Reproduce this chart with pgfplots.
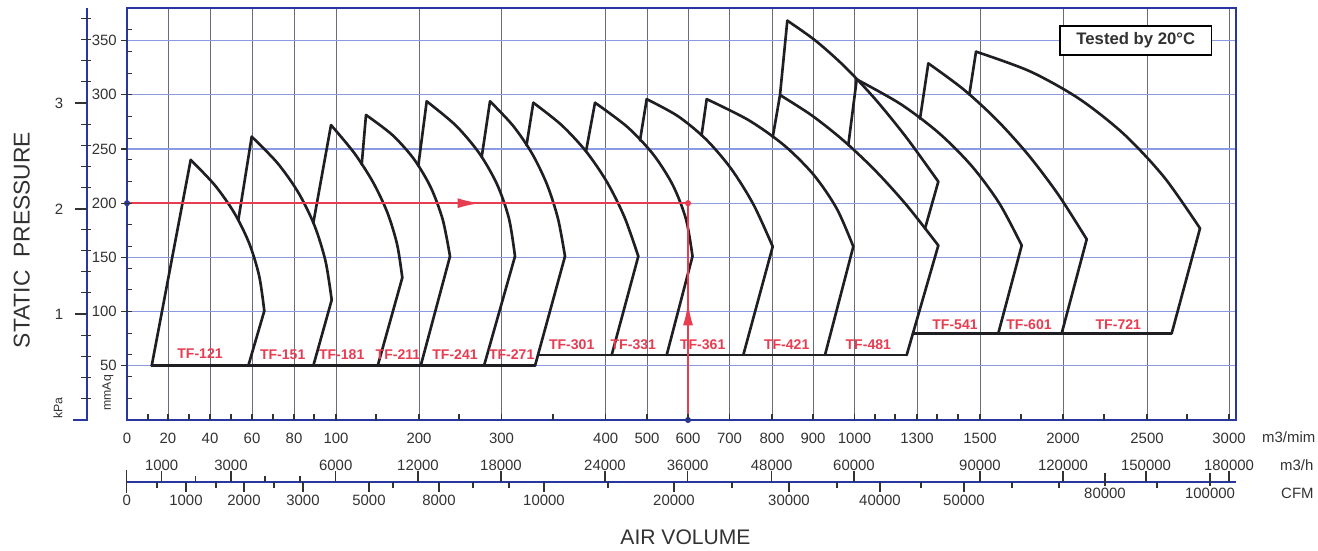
\documentclass[border=0pt]{standalone}
\usepackage{pgfplots}
\pgfplotsset{compat=1.18}
\usepackage{fontspec}
\setmainfont{Liberation Sans}
\usetikzlibrary{arrows.meta}

\definecolor{frame}{RGB}{40,55,160}
\definecolor{vgrid}{RGB}{105,108,122}
\definecolor{hgrid}{RGB}{140,155,225}
\definecolor{fanline}{RGB}{30,30,35}
\definecolor{selred}{RGB}{232,60,80}
\definecolor{txt}{RGB}{50,50,50}

\tikzset{
  fan/.style={fanline, line width=1.5pt, line join=round, line cap=round},
  redline/.style={selred, line width=1.1pt},
}

% left line, top curve, right line of one fan
\newcommand\fan[3]{%
  \addplot[fan] coordinates {#1};
  \addplot[fan, smooth] coordinates {#2};
  \addplot[fan] coordinates {#3};}

\begin{document}
\begin{tikzpicture}[font=\fontsize{8.5}{10}\selectfont]
\begin{axis}[
  x=0.2mm, y=0.2168mm,
  xmin=127, xmax=1236, ymin=0, ymax=380,
  clip=false,
  axis line style={draw=frame, line width=1.1pt},
  xtick={127,168,210,252,294,336,419,501.5,605.7,647,688,729.5,772,813,854.5,917,980,1063,1147,1229},
  xticklabels={0,20,40,60,80,100,200,300,400,500,600,700,800,900,1000,1300,1500,2000,2500,3000},
  ytick={50,100,150,200,250,300,350},
  yticklabels={50,100,150,200,250,300,350},
  tick style={draw=none},
  xmajorgrids, ymajorgrids,
  major grid style={vgrid, line width=0.55pt},
  every axis y grid/.style={hgrid, line width=0.6pt},
  tick label style={font=\fontsize{8.5}{10}\selectfont, text=txt},
  xticklabel style={anchor=center, yshift=-3.6mm},
  yticklabel style={anchor=east, xshift=-0.8mm},
]

% base lines
\addplot[fan] coordinates {(151.7,50) (535,50)};
\addplot[fan] coordinates {(538,60) (906.7,60)};
\addplot[fan] coordinates {(913,80) (1171.7,80)};

% TF-121
\fan{(151.7,50) (190.7,240)}
    {(190.7,240) (215,216.4) (234.5,190.7) (249.3,162.8) (259.2,132.8) (264.3,100.6)}
    {(264.3,100.6) (248.3,50)}
% TF-151
\fan{(238.3,184.2) (251.7,261.4)}
    {(251.7,261.4) (277.5,237) (298.4,209.7) (314.4,179.6) (325.5,146.6) (331.7,110.7)}
    {(331.7,110.7) (313.3,50)}
% TF-181
\fan{(313.3,181.7) (331,272.1)}
    {(331,272.1) (354.4,246.1) (373.3,218.9) (387.6,190.8) (397.2,161.6) (402.3,131.3)}
    {(402.3,131.3) (377.7,50)}
% TF-211
\fan{(361.7,235.6) (366,281.4)}
    {(366,281.4) (392.4,262.9) (414,240.6) (430.8,214.5) (442.8,184.6) (450,151)}
    {(450,151) (420.7,50)}
% TF-241
\fan{(418.3,234.5) (426.7,294)}
    {(426.7,294) (456,271.5) (479.4,245.9) (497.1,217.3) (509,185.7) (515,151)}
    {(515,151) (484,50)}
% TF-271
\fan{(481.7,242.6) (490,294)}
    {(490,294) (513,271.5) (532,245.9) (547,217.3) (558,185.7) (565,151)}
    {(565,151) (535,50)}
% TF-301
\fan{(526.5,253.3) (533.3,292.7)}
    {(533.3,292.7) (561.5,272.1) (586.1,247.7) (607.1,219.3) (624.5,187.1) (638.3,151)}
    {(638.3,151) (611.7,60)}
% TF-331
\fan{(586,247.8) (595,292.7)}
    {(595,292.7) (627.5,270.2) (653.4,244.8) (672.9,216.5) (686,185.2) (692.5,151)}
    {(692.5,151) (666.7,60)}
% TF-361
\fan{(640,257.9) (646.7,296)}
    {(646.7,296) (677.9,280.3) (706,258.9) (731.2,231.7) (753.5,198.7) (772.7,160)}
    {(772.7,160) (743.3,60)}
% TF-421
\fan{(701.5,262.3) (706.7,296)}
    {(706.7,296) (748.8,276.5) (784.5,253.1) (813.9,225.9) (836.8,194.9) (853.3,160)}
    {(853.3,160) (825,60)}
% TF-481
\fan{(772.7,260.8) (780,299.8)}
    {(780,299.8) (812.2,280.7) (844.1,257.3) (875.8,229.6) (907.2,197.5) (938.3,161)}
    {(938.3,161) (906.7,60)}
% upper range above TF-481
\fan{(780,299.8) (787.3,368.4)}
    {(787.3,368.4) (815.7,349.8) (845,325.7) (875.2,296) (906.3,260.7) (938.3,219.9)}
    {(938.3,219.9) (925,176.6)}
% TF-541
\fan{(848.3,253.6) (856.7,314.2)}
    {(856.7,314.2) (900.5,291.5) (938.8,264.8) (971.8,234.2) (999.5,199.6) (1021.7,161)}
    {(1021.7,161) (998.3,80)}
% TF-601
\fan{(920,277.9) (928.3,329)}
    {(928.3,329) (963.5,305) (996.9,276.7) (1028.6,244.2) (1058.5,207.6) (1086.7,166.7)}
    {(1086.7,166.7) (1061.7,80)}
% TF-721
\fan{(969.3,300.1) (976,339.8)}
    {(976,339.8) (1029.8,321.7) (1079,296.4) (1123.8,263.8) (1164.2,223.9) (1200,176.8)}
    {(1200,176.8) (1171.7,80)}

% selection example
\addplot[redline, -{Latex[length=4.5mm,width=2mm]}] coordinates {(127,200) (480,200)};
\addplot[redline] coordinates {(470,200) (688,200)};
\addplot[redline, -{Latex[length=4.5mm,width=2mm]}] coordinates {(688,0) (688,108)};
\addplot[redline] coordinates {(688,100) (688,200)};
\addplot[only marks, mark=*, mark size=1.5pt, frame] coordinates {(127,200) (688,0)};
\addplot[only marks, mark=*, mark size=1.5pt, selred] coordinates {(688,200)};

\coordinate (O) at (axis cs:0,0);
\end{axis}

\begin{scope}[shift={(O)}, x=0.2mm, y=0.2168mm]
  % ticks on the frame
  \foreach \x in {148,168,189,210,231,252,273,294,314,336,376,419,459,501.5,553,605.7,647,688,729.5,772,813,854.5,875,895,917,937,958,980,1021,1063,1104,1147,1187,1229}
    \draw[txt, line width=0.7pt] (\x,0) -- (\x,5.5);
  \foreach \y in {50,100,...,350}
    \draw[txt, line width=0.7pt] (121.5,\y) -- (127,\y);
  \foreach \y in {20,40,...,360}
    \draw[txt, line width=0.6pt] (127,\y) -- (132.5,\y);

  % kPa scale
  \draw[frame, line width=1.1pt] (73,0) -- (87,0) -- (87,380);
  \foreach \k/\y in {1/97.8,2/194.6,3/292.4} {
    \draw[txt, line width=0.8pt] (75,\y) -- (87,\y);
    \node[txt] at (59,\y) {\k};
  }
  \foreach \y in {19.5,38.9,58.4,77.8,117.3,136.8,156.2,175.7,214.1,233.5,253,272.4,312,331.5,350.9,370.4}
    \draw[txt, line width=0.6pt] (81.5,\y) -- (91,\y);
  \node[txt, rotate=90, font=\fontsize{7}{8}\selectfont] at (58,11) {kPa};
  \node[txt, rotate=90, font=\fontsize{7}{8}\selectfont] at (108,25) {mmAq};
  \node[txt, rotate=90, font=\fontsize{13}{15}\selectfont] at (21.7,166) {STATIC\ \ PRESSURE};

  % m3/h and CFM scale
  \draw[frame, line width=1.1pt] (126,-56.9) -- (1236,-56.9);
  \draw[txt, line width=0.8pt] (126.5,-46.1) -- (126.5,-67.3);
  \foreach \x/\l in {161.7/1000,231/3000,335.7/6000,418/12000,501/18000,605/24000,687.7/36000,771.7/48000,854/60000,980/90000,1063/120000,1146/150000,1229/180000} {
    \draw[txt, line width=0.8pt] (\x,-56.9) -- (\x,-47.5);
    \node[txt] at (\x,-41.5) {\l};
  }
  \foreach \x in {195.7,265,300}
    \draw[txt, line width=0.8pt] (\x,-56.9) -- (\x,-51.5);
  \foreach \x/\l in {186/1000,244/2000,303/3000,369/5000,439/8000,544/10000,674/20000,789/30000,880/40000,964/50000} {
    \draw[txt, line width=0.8pt] (\x,-56.9) -- (\x,-66.3);
    \node[txt] at (\x,-73.8) {\l};
  }
  \node[txt] at (126.7,-73.8) {0};
  \foreach \x/\l in {1105/80000,1210/100000} {
    \draw[txt, line width=0.8pt] (\x,-48.5) -- (\x,-61);
    \node[txt] at (\x,-67.3) {\l};
  }
  \foreach \x in {157,216,274,393,473,509,608,732,837,921,1012,1059,1157}
    \draw[txt, line width=0.8pt] (\x,-56.9) -- (\x,-62.5);

  \node[txt, anchor=west] at (1256,-15.7) {m3/mim};
  \node[txt, anchor=west] at (1274,-41.5) {m3/h};
  \node[txt, anchor=west] at (1275,-67.3) {CFM};
  \node[txt, font=\fontsize{12}{14}\selectfont] at (685.5,-108) {AIR VOLUME};

  % model names
  \foreach \x/\y/\l in {200/61.5/121,282.7/60/151,341.7/60/181,398/60/211,455/60/241,511.7/60/271,
                        571.7/69.2/301,633.3/69.2/331,702.7/69.2/361,786.7/69.2/421,868.3/69.2/481,
                        955/87.6/541,1029/87.6/601,1118.3/87.6/721}
    \node[text=selred, font=\bfseries\fontsize{8}{9}\selectfont] at (\x,\y) {TF-\l};

  \node[draw=black, line width=0.9pt, fill=white, minimum width=30.3mm, minimum height=5.8mm,
        font=\bfseries\fontsize{9.5}{11}\selectfont, text=txt] at (1135.8,350.1) {Tested by 20°C};

  \pgfresetboundingbox
  \path (0,-120.85) rectangle (1318,387.45);
\end{scope}
\end{tikzpicture}
\end{document}
